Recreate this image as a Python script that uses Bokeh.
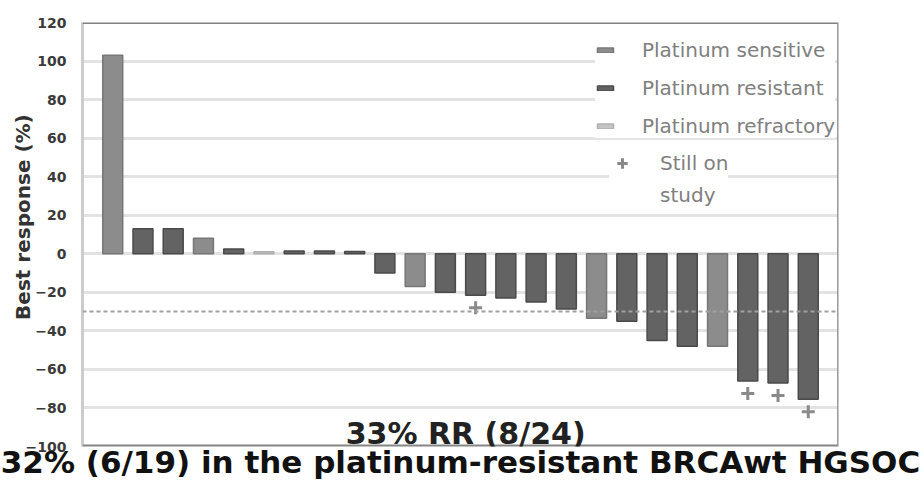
from bokeh.plotting import figure
from bokeh.models import Range1d, Span, Label, Legend, LegendItem, FixedTicker, Title
from bokeh.embed import file_html
from bokeh.resources import INLINE

# ---- data ----
patients = list(range(1, 25))
best_response = [103, 13, 13, 8, 2.5, 1, 1.5, 1.5, 1.2, -10, -17, -20, -21.5, -23,
                 -25, -28.7, -33.5, -35, -45, -48, -48, -66, -67, -75.5]
status = ["sensitive", "resistant", "resistant", "sensitive", "resistant", "refractory",
          "resistant", "resistant", "resistant", "resistant", "sensitive", "resistant",
          "resistant", "resistant", "resistant", "resistant", "sensitive", "resistant",
          "resistant", "resistant", "sensitive", "resistant", "resistant", "resistant"]
still_on_study = [13, 22, 23, 24]
y_ticks = list(range(-100, 121, 20))
rr_threshold = -30
rr_text = "33% RR (8/24)"
sub_text = "32% (6/19) in the platinum-resistant BRCAwt HGSOC"

groups = [("sensitive", "Platinum sensitive", "#8c8c8c", "#777777"),
          ("resistant", "Platinum resistant", "#636363", "#4a4a4a"),
          ("refractory", "Platinum refractory", "#c4c4c4", "#b0b0b0")]

p = figure(width=922, height=482, output_backend="svg", toolbar_location=None,
           x_range=Range1d(0, 25), y_range=Range1d(-100, 120),
           min_border_left=82, min_border_right=84, min_border_top=22, min_border_bottom=0)
p.outline_line_color = None
p.background_fill_color = "white"
p.border_fill_color = "white"

# grid
p.xgrid.visible = False
p.ygrid.ticker = FixedTicker(ticks=y_ticks)
p.ygrid.grid_line_color = "#e3e3e3"
p.ygrid.grid_line_width = 3

# axes
p.xaxis.visible = False
p.yaxis.ticker = FixedTicker(ticks=y_ticks)
p.yaxis.major_label_text_font = "DejaVu Sans"
p.yaxis.major_label_text_font_style = "bold"
p.yaxis.major_label_text_font_size = "14px"
p.yaxis.major_label_text_color = "#3a3a3a"
p.yaxis.major_tick_line_color = None
p.yaxis.minor_tick_line_color = None
p.yaxis.major_label_standoff = 10
p.yaxis.axis_line_color = "#cccccc"
p.yaxis.axis_line_width = 3
p.yaxis.axis_label = "\u00a0" * 5 + "Best response (%)"
p.yaxis.axis_label_text_font = "DejaVu Sans"
p.yaxis.axis_label_text_font_style = "bold"
p.yaxis.axis_label_text_font_size = "20px"
p.yaxis.axis_label_text_color = "#333333"
p.yaxis.axis_label_standoff = -12

# frame borders
p.add_layout(Span(location=120, dimension="width", line_color="#808080", line_width=3))
p.add_layout(Span(location=-100, dimension="width", line_color="#858585", line_width=4))
p.add_layout(Span(location=25, dimension="height", line_color="#9a9a9a", line_width=3))

# RR threshold dashed line
p.add_layout(Span(location=rr_threshold, dimension="width", line_color="#a0a0a0",
                  line_width=2, line_dash="4 3"))

items = []
for key, name, fill, edge in groups:
    xs = [pt for pt, s in zip(patients, status) if s == key]
    ys = [v for v, s in zip(best_response, status) if s == key]
    r = p.vbar(x=xs, top=ys, bottom=0, width=0.66, fill_color=fill,
               line_color=edge, line_width=1.5)
    items.append(LegendItem(label=name, renderers=[r]))

cx = still_on_study
cy = [best_response[i - 1] - 6.5 for i in still_on_study]
rc = p.scatter(x=cx, y=cy, marker="cross", size=13, line_color="#8a8a8a", line_width=3)
# invisible renderer used only to carry the second line of the legend label
r_blank = p.scatter(x=[], y=[], marker="cross", size=0, line_alpha=0, fill_alpha=0)


def style(lg):
    lg.background_fill_color = "white"
    lg.background_fill_alpha = 1
    lg.border_line_color = None
    lg.label_text_font = "DejaVu Sans"
    lg.label_text_font_size = "20px"
    lg.label_text_color = "#808080"
    lg.padding = 4
    lg.margin = 0


legend1 = Legend(items=items, location=(513, 308))
style(legend1)
legend1.glyph_width = 20
legend1.glyph_height = 6
legend1.label_standoff = 27
legend1.spacing = 14
p.add_layout(legend1)

legend2 = Legend(items=[LegendItem(label="Still on", renderers=[rc]),
                        LegendItem(label="study", renderers=[r_blank])],
                 location=(527, 238))
style(legend2)
legend2.glyph_width = 26
legend2.glyph_height = 26
legend2.label_standoff = 25
legend2.spacing = 6
p.add_layout(legend2)

p.add_layout(Label(x=12.67, y=-93.5, text=rr_text, text_align="center",
                   text_baseline="alphabetic", text_font="DejaVu Sans",
                   text_font_style="bold", text_font_size="30px", text_color="#222222"))

p.add_layout(Title(text=sub_text, align="center", text_font="DejaVu Sans",
                   text_font_style="bold", text_font_size="31px", text_color="#111111",
                   standoff=-10, offset=0), "below")
# small spacer below the caption so its descenders stay inside the page
p.add_layout(Title(text="\u00a0", text_font_size="5px", standoff=0), "below")

open("out.html", "w").write(file_html(p, INLINE))
